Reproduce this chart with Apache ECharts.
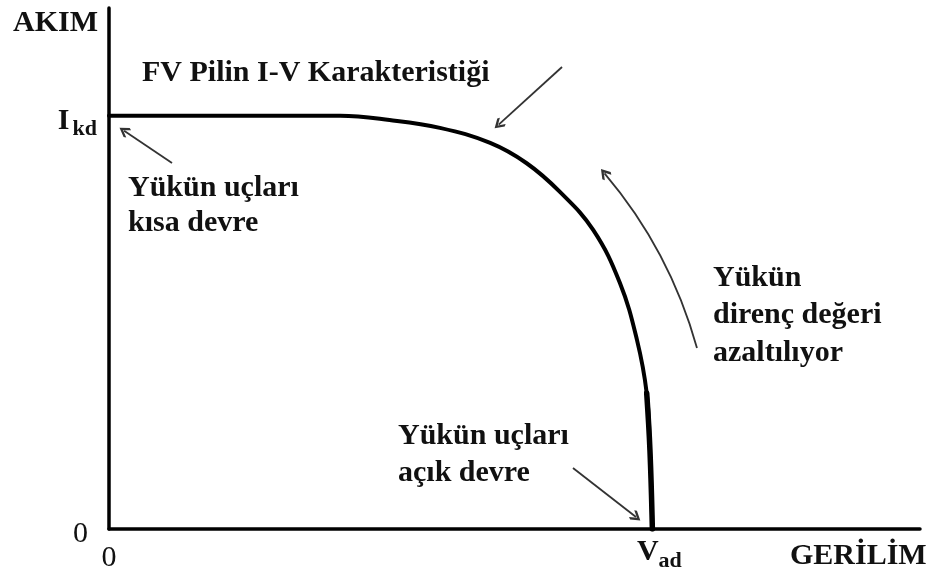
<!DOCTYPE html>
<html>
<head>
<meta charset="utf-8">
<title>FV Pilin I-V Karakteristiği</title>
<script src="https://cdn.jsdelivr.net/npm/echarts@6.0.0/dist/echarts.min.js"></script>
<style>
	html,body{margin:0;padding:0;background:#fff;}
	#chart{width:934px;height:574px;}
</style>
</head>
<body>
<div id="chart"></div>
<script>
// gerilim (x) ve akim (y), 0-100 olarak normalize
var gerilim = [0, 28.5, 34.6, 40.8, 47.0, 51.5, 55.6, 59.7, 63.0, 65.1, 66.3, 66.7, 67.0];
var akim    = [79.3, 79.3, 78.5, 77.0, 74.1, 70.2, 64.7, 57.4, 47.2, 36.3, 26.1, 15.2, 0];
var IKD = 79.3;
var VAD = 67.0;

// ok isaretleri: baslangic, bitis, egrilik
var okBas   = [[7.77, 70.25], [55.86, 88.68], [72.50, 34.74], [57.21, 11.71]];
var okSon   = [[1.86, 76.43], [48.05, 77.62], [61.10, 68.27], [64.98, 2.30]];
var okEgri  = [0, 0, -0.11, 0];

var baslik = 'FV Pilin I-V Karakteristiği';
var yAd = 'AKIM';
var xAd = 'GERİLİM';
var notKisa = 'Yükün uçları\nkısa devre';
var notDirenc = 'Yükün\ndirenç değeri\nazaltılıyor';
var notAcik = 'Yükün uçları\naçık devre';

var FONT = "'Liberation Serif', 'Times New Roman', serif";

function noktalar(bas){
	var d = [];
	for (var i = bas; i < gerilim.length; i++) {
		d.push([gerilim[i], akim[i]]);
	}
	return d;
}

function egriSeri(bas, kalinlik){
	return {
		type: 'line',
		data: noktalar(bas),
		smooth: 0.4,
		showSymbol: false,
		silent: true,
		z: 5,
		lineStyle: {color: '#000', width: kalinlik, cap: 'round', join: 'round'}
	};
}

var okVeri = [];
for (var i = 0; i < okBas.length; i++) {
	okVeri.push({coords: [okBas[i], okSon[i]], lineStyle: {curveness: okEgri[i]}});
}

function yazi(metin, x, y, satir){
	return {
		type: 'text',
		x: x,
		y: y,
		silent: true,
		style: {
			text: metin,
			fontFamily: FONT,
			fontSize: 30,
			fontWeight: 'bold',
			lineHeight: satir,
			fill: '#111',
			align: 'left',
			verticalAlign: 'top'
		}
	};
}

var myChart = echarts.init(document.getElementById('chart'));

var option = {
	backgroundColor: '#fff',
	animation: false,
	grid: {left: 109, right: 14, top: 8, bottom: 45, outerBoundsMode: 'none'},
	xAxis: {
		type: 'value',
		min: 0,
		max: 100,
		axisLine: {show: true, onZero: false, lineStyle: {color: '#000', width: 3.5}},
		axisTick: {show: false},
		splitLine: {show: false},
		axisLabel: {
			customValues: [0, VAD],
			margin: 8,
			hideOverlap: false,
			formatter: function(v){ return v === 0 ? '{zx|0}' : '{mx|V}{sx|ad}'; },
			rich: {
				zx: {fontFamily: FONT, fontSize: 30, color: '#111', lineHeight: 20, padding: [6, 0, 0, 0], verticalAlign: 'top'},
				mx: {fontFamily: FONT, fontSize: 30, fontWeight: 'bold', color: '#111', lineHeight: 20, padding: [0, 0, 0, 14], verticalAlign: 'top'},
				sx: {fontFamily: FONT, fontSize: 22, fontWeight: 'bold', color: '#111', lineHeight: 20, padding: [13, 0, 0, 0], verticalAlign: 'top'}
			}
		}
	},
	yAxis: {
		type: 'value',
		min: 0,
		max: 100,
		axisLine: {show: true, onZero: false, lineStyle: {color: '#000', width: 3.5}},
		axisTick: {show: false},
		splitLine: {show: false},
		axisLabel: {
			customValues: [0, IKD],
			margin: 12,
			hideOverlap: false,
			formatter: function(v){ return v === 0 ? '{zy|0}' : '{my|I}{sy|kd}'; },
			rich: {
				zy: {fontFamily: FONT, fontSize: 30, color: '#111', lineHeight: 20, padding: [0, 9, 22, 0], verticalAlign: 'top'},
				my: {fontFamily: FONT, fontSize: 30, fontWeight: 'bold', color: '#111', lineHeight: 20, verticalAlign: 'top'},
				sy: {fontFamily: FONT, fontSize: 22, fontWeight: 'bold', color: '#111', lineHeight: 20, padding: [12, 0, 0, 3], verticalAlign: 'top'}
			}
		}
	},
	series: [
		egriSeri(0, 4),
		egriSeri(10, 5.5),
		{
			type: 'lines',
			coordinateSystem: 'cartesian2d',
			silent: true,
			z: 6,
			symbol: ['none', 'path://M5,0L10,5L8.9,6.4L5,2.5L1.1,6.4L0,5Z'],
			symbolSize: [17, 11],
			lineStyle: {color: '#333', width: 1.8, opacity: 1},
			data: okVeri
		}
	],
	graphic: [
		yazi(yAd, 13, 8, 30),
		yazi(xAd, 790, 541, 30),
		yazi(baslik, 142, 58, 30),
		yazi(notKisa, 128, 170.5, 35),
		yazi(notDirenc, 713, 259, 37.5),
		yazi(notAcik, 398, 417.5, 37)
	]
};

myChart.setOption(option);
</script>
</body>
</html>
